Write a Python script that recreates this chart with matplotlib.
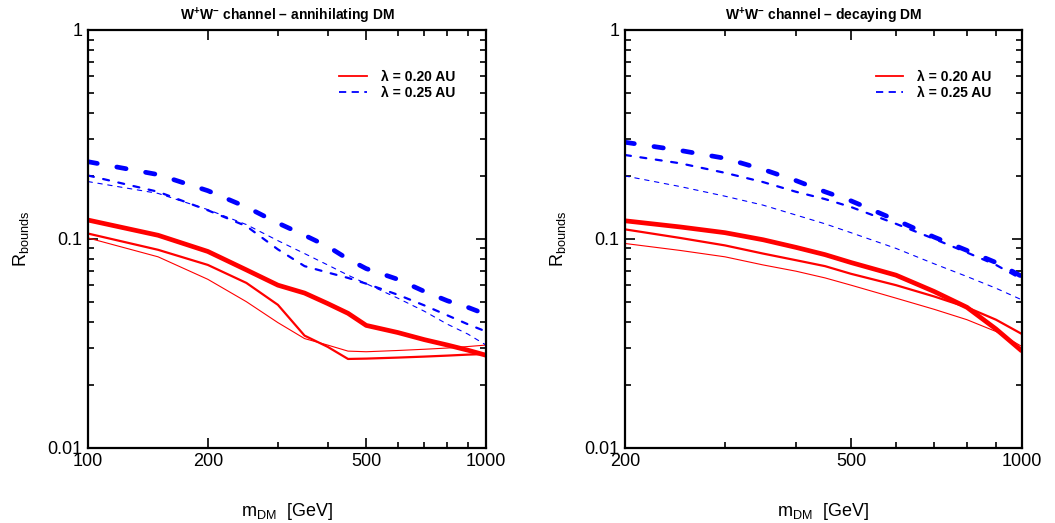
import matplotlib

matplotlib.use("Agg")
import matplotlib.pyplot as plt
from matplotlib.lines import Line2D
from matplotlib.ticker import FixedFormatter, FixedLocator, LogLocator, NullFormatter

plt.rcParams["font.family"] = ["Liberation Sans", "DejaVu Sans"]
plt.rcParams["mathtext.fontset"] = "custom"
plt.rcParams["mathtext.rm"] = "Liberation Sans"
plt.rcParams["mathtext.bf"] = "Liberation Sans:bold"
plt.rcParams["mathtext.default"] = "regular"

# annihilating DM, m_DM in GeV
m_ann = [100, 150, 200, 250, 300, 350, 400, 450, 500, 600, 700, 800, 900, 1000]
ann_red_thin = [0.101, 0.082, 0.064, 0.050, 0.0397, 0.0333, 0.031, 0.029, 0.0288, 0.0292, 0.0296, 0.030, 0.0305, 0.031]
ann_red_mid = [0.106, 0.0886, 0.075, 0.0615, 0.0483, 0.0344, 0.0304, 0.0266, 0.0267, 0.0270, 0.0273, 0.0276, 0.0279, 0.0281]
ann_red_thick = [0.123, 0.104, 0.087, 0.071, 0.060, 0.055, 0.049, 0.044, 0.0385, 0.0356, 0.0329, 0.031, 0.0293, 0.0277]
ann_blue_thin = [0.188, 0.165, 0.138, 0.117, 0.098, 0.085, 0.075, 0.067, 0.061, 0.052, 0.045, 0.039, 0.035, 0.031]
ann_blue_mid = [0.201, 0.168, 0.137, 0.115, 0.089, 0.074, 0.069, 0.065, 0.061, 0.054, 0.048, 0.043, 0.039, 0.036]
ann_blue_thick = [0.234, 0.203, 0.170, 0.142, 0.119, 0.104, 0.092, 0.080, 0.072, 0.064, 0.056, 0.0505, 0.047, 0.0435]

# decaying DM
m_dec = [200, 250, 300, 350, 400, 450, 500, 600, 700, 800, 900, 1000]
dec_red_thin = [0.095, 0.088, 0.082, 0.075, 0.070, 0.065, 0.060, 0.052, 0.046, 0.041, 0.036, 0.0305]
dec_red_mid = [0.111, 0.101, 0.093, 0.085, 0.079, 0.074, 0.068, 0.060, 0.053, 0.047, 0.041, 0.035]
dec_red_thick = [0.122, 0.114, 0.107, 0.099, 0.091, 0.084, 0.077, 0.067, 0.056, 0.047, 0.037, 0.029]
dec_blue_thin = [0.200, 0.178, 0.160, 0.145, 0.130, 0.118, 0.107, 0.090, 0.076, 0.066, 0.058, 0.051]
dec_blue_mid = [0.252, 0.230, 0.207, 0.187, 0.168, 0.155, 0.142, 0.118, 0.100, 0.086, 0.075, 0.064]
dec_blue_thick = [0.290, 0.265, 0.243, 0.215, 0.190, 0.168, 0.152, 0.123, 0.102, 0.088, 0.077, 0.066]

titles = ["$\\mathbf{W^{+}W^{-}}$ channel – annihilating DM", "$\\mathbf{W^{+}W^{-}}$ channel – decaying DM"]
legend_labels = ["λ = 0.20 AU", "λ = 0.25 AU"]

RED = "#ff0000"
BLUE = "#0000ff"


def draw_panel(ax, m, reds, blues, xlim, xticks, title):
    for y, lw in zip(reds, [0.8, 1.6, 3.4]):
        ax.plot(m, y, color=RED, lw=lw, solid_capstyle="butt")
    # thin / medium / thick dashed blue
    blue_styles = [(0.8, (4.0, 5.0)), (1.6, (2.7, 4.3)), (3.4, (2.0, 4.2))]
    for y, (lw, dash) in zip(blues, blue_styles):
        ax.plot(m, y, color=BLUE, lw=lw, linestyle=(0, dash), dash_capstyle="round")

    ax.set_xscale("log")
    ax.set_yscale("log")
    ax.set_xlim(*xlim)
    ax.set_ylim(0.01, 1)
    ax.xaxis.set_major_locator(FixedLocator(xticks))
    ax.xaxis.set_major_formatter(FixedFormatter([str(t) for t in xticks]))
    minor = [v for v in range(100, 1001, 100) if v not in xticks and xlim[0] < v < xlim[1]]
    ax.xaxis.set_minor_locator(FixedLocator(minor))
    ax.xaxis.set_minor_formatter(NullFormatter())
    ax.yaxis.set_major_locator(FixedLocator([0.01, 0.1, 1]))
    ax.yaxis.set_major_formatter(FixedFormatter(["0.01", "0.1", "1"]))
    ax.yaxis.set_minor_locator(LogLocator(base=10, subs=range(2, 10)))
    ax.yaxis.set_minor_formatter(NullFormatter())

    ax.tick_params(which="both", direction="in", top=True, right=True, labelsize=13, width=1.2)
    ax.tick_params(which="major", length=7, pad=4)
    ax.tick_params(which="minor", length=4)
    for s in ax.spines.values():
        s.set_linewidth(1.6)

    ax.set_title(title, fontsize=10, fontweight="bold", pad=7)
    ax.set_xlabel("m$_{DM}$  [GeV]", fontsize=13, labelpad=22)
    ax.set_ylabel("R$_{bounds}$", fontsize=13, labelpad=12)

    handles = [
        Line2D([], [], color=RED, lw=1.3),
        Line2D([], [], color=BLUE, lw=1.3, linestyle=(0, (4, 3))),
    ]
    ax.legend(handles, legend_labels, loc="upper left", bbox_to_anchor=(0.6, 0.935),
              frameon=False, handlelength=2.0, handletextpad=1.0, labelspacing=0.15,
              prop={"weight": "bold", "size": 10})


def main() -> None:
    fig = plt.figure(figsize=(10.55, 5.23), dpi=100)
    ax1 = fig.add_axes([0.0834, 0.144, 0.3773, 0.7987])
    ax2 = fig.add_axes([0.5924, 0.144, 0.3763, 0.7987])

    draw_panel(ax1, m_ann, [ann_red_thin, ann_red_mid, ann_red_thick],
               [ann_blue_thin, ann_blue_mid, ann_blue_thick], (100, 1000), [100, 200, 500, 1000], titles[0])
    draw_panel(ax2, m_dec, [dec_red_thin, dec_red_mid, dec_red_thick],
               [dec_blue_thin, dec_blue_mid, dec_blue_thick], (200, 1000), [200, 500, 1000], titles[1])

    fig.savefig("out.png", dpi=100)


if __name__ == "__main__":
    main()
